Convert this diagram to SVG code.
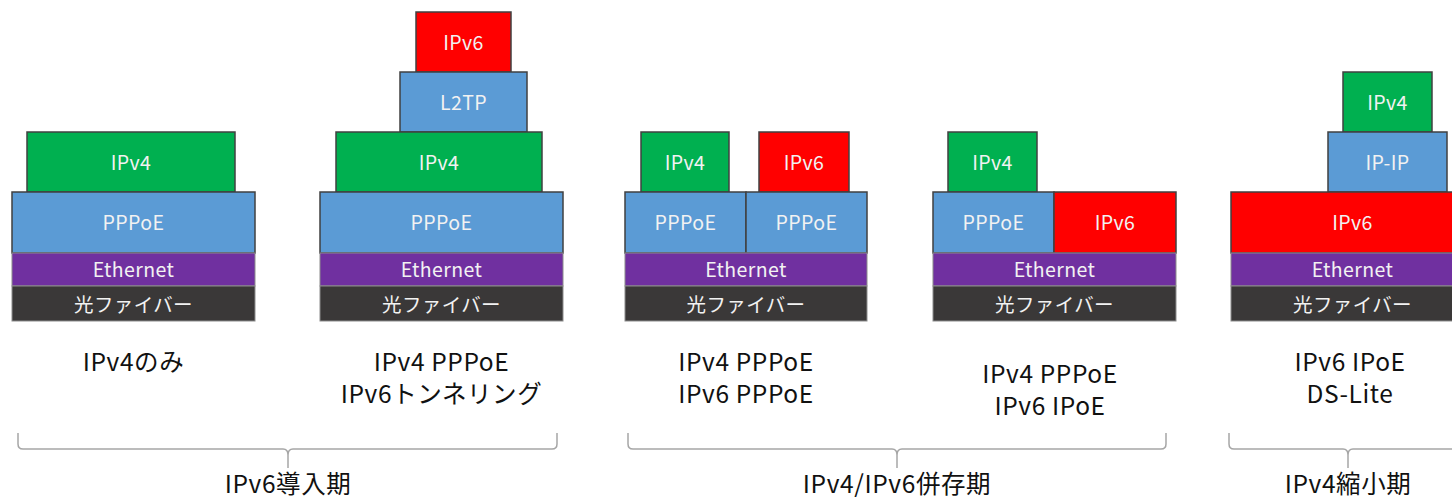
<svg xmlns="http://www.w3.org/2000/svg" width="1452" height="500" viewBox="0 0 1452 500">
<style>
.b{stroke:#404040;stroke-width:1.5}
.band{stroke:#8c8c8c;stroke-width:1}
.g{fill:#00B050}.bl{fill:#5B9BD5}.r{fill:#FF0000}.p{fill:#7030A0}.k{fill:#3A3838}
.t{font-family:"Noto Sans CJK JP","Noto Sans",sans-serif;font-size:19.5px;font-weight:400;letter-spacing:0.4px;fill:#F2F2F2;text-anchor:middle;dominant-baseline:central}
.lb{font-family:"Noto Sans CJK JP","Noto Sans",sans-serif;font-size:24.5px;font-weight:400;letter-spacing:0.6px;fill:#111111;text-anchor:middle}
.br{fill:none;stroke:#A6A6A6;stroke-width:1.5}
</style>
<rect width="1452" height="500" fill="#FFFFFF"/>

<g id="stack1">
<rect class="b g" x="27" y="132" width="208" height="60"/><text class="t" x="131" y="161">IPv4</text>
<rect class="b bl" x="12" y="192" width="243" height="61"/><text class="t" x="133.5" y="221">PPPoE</text>
<rect class="band p" x="12" y="253" width="243" height="33"/><text class="t" x="133.5" y="268">Ethernet</text>
<rect class="band k" x="12" y="286" width="243" height="35"/><text class="t" x="133.5" y="303">光ファイバー</text>
<text class="lb" x="133.5" y="371">IPv4のみ</text>
</g>

<g id="stack2">
<rect class="b r" x="416" y="12" width="95" height="60"/><text class="t" x="463.5" y="41">IPv6</text>
<rect class="b bl" x="400" y="72" width="127" height="60"/><text class="t" x="463.5" y="101">L2TP</text>
<rect class="b g" x="336" y="132" width="206" height="60"/><text class="t" x="439" y="161">IPv4</text>
<rect class="b bl" x="320" y="192" width="243" height="61"/><text class="t" x="441.5" y="221">PPPoE</text>
<rect class="band p" x="320" y="253" width="243" height="33"/><text class="t" x="441.5" y="268">Ethernet</text>
<rect class="band k" x="320" y="286" width="243" height="35"/><text class="t" x="441.5" y="303">光ファイバー</text>
<text class="lb" x="441.5" y="371">IPv4 PPPoE</text>
<text class="lb" x="441.5" y="403">IPv6トンネリング</text>
</g>

<g id="stack3">
<rect class="b g" x="641" y="132" width="88" height="60"/><text class="t" x="685" y="161">IPv4</text>
<rect class="b r" x="759" y="132" width="90" height="60"/><text class="t" x="804" y="161">IPv6</text>
<rect class="b bl" x="625" y="192" width="121" height="61"/><text class="t" x="685.5" y="221">PPPoE</text>
<rect class="b bl" x="746" y="192" width="121" height="61"/><text class="t" x="806.5" y="221">PPPoE</text>
<rect class="band p" x="625" y="253" width="242" height="33"/><text class="t" x="746" y="268">Ethernet</text>
<rect class="band k" x="625" y="286" width="242" height="35"/><text class="t" x="746" y="303">光ファイバー</text>
<text class="lb" x="746" y="371">IPv4 PPPoE</text>
<text class="lb" x="746" y="403">IPv6 PPPoE</text>
</g>

<g id="stack4">
<rect class="b g" x="948" y="132" width="89" height="60"/><text class="t" x="992.5" y="161">IPv4</text>
<rect class="b bl" x="933" y="192" width="121" height="61"/><text class="t" x="993.5" y="221">PPPoE</text>
<rect class="b r" x="1054" y="192" width="122" height="61"/><text class="t" x="1115" y="221">IPv6</text>
<rect class="band p" x="933" y="253" width="243" height="33"/><text class="t" x="1054.5" y="268">Ethernet</text>
<rect class="band k" x="933" y="286" width="243" height="35"/><text class="t" x="1054.5" y="303">光ファイバー</text>
<text class="lb" x="1050" y="383">IPv4 PPPoE</text>
<text class="lb" x="1050" y="415">IPv6 IPoE</text>
</g>

<g id="stack5">
<rect class="b g" x="1343" y="72" width="89" height="60"/><text class="t" x="1387.5" y="101">IPv4</text>
<rect class="b bl" x="1328" y="132" width="119" height="60"/><text class="t" x="1387.5" y="161">IP-IP</text>
<rect class="b r" x="1231" y="192" width="243" height="61"/><text class="t" x="1352.5" y="221">IPv6</text>
<rect class="band p" x="1231" y="253" width="243" height="33"/><text class="t" x="1352.5" y="268">Ethernet</text>
<rect class="band k" x="1231" y="286" width="243" height="35"/><text class="t" x="1352.5" y="303">光ファイバー</text>
<text class="lb" x="1350" y="371">IPv6 IPoE</text>
<text class="lb" x="1350" y="403">DS-Lite</text>
</g>

<g id="connectors">
<path class="br" d="M18,433 L18,444 Q18,449 23,449 L283,449 Q288,449 288,455 L288,468 M288,455 Q288,449 293,449 L552,449 Q557,449 557,444 L557,433"/>
<path class="br" d="M628,433 L628,444 Q628,449 633,449 L892,449 Q897,449 897,455 L897,468 M897,455 Q897,449 902,449 L1161,449 Q1166,449 1166,444 L1166,433"/>
<path class="br" d="M1229,433 L1229,444 Q1229,449 1234,449 L1343,449 Q1348,449 1348,455 L1348,468 M1348,455 Q1348,449 1353,449 L1460,449"/>
</g>

<g id="periods">
<text class="lb" x="288" y="493">IPv6導入期</text>
<text class="lb" x="897" y="493">IPv4/IPv6併存期</text>
<text class="lb" x="1348" y="493">IPv4縮小期</text>
</g>
</svg>
